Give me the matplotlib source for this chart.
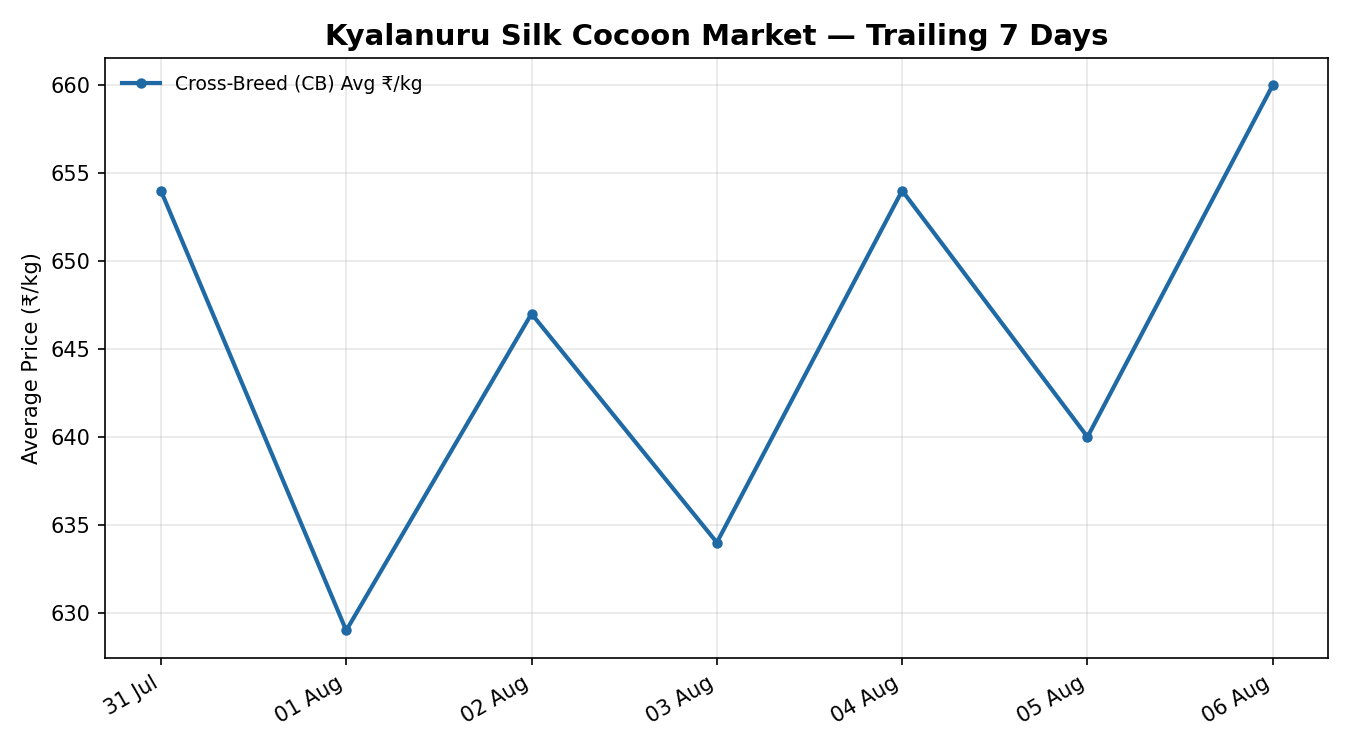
import numpy as np
import pandas as pd
import matplotlib
matplotlib.use("Agg")
import matplotlib.pyplot as plt
import matplotlib.dates as mdates

# données : prix moyen CB sur 7 jours
dates = ["2024-07-31", "2024-08-01", "2024-08-02", "2024-08-03",
         "2024-08-04", "2024-08-05", "2024-08-06"]
cb_avg = [654, 629, 647, 634, 654, 640, 660]

x = pd.to_datetime(dates)

fig, ax = plt.subplots(figsize=(9, 5), dpi=150)
ax.plot(x, cb_avg, color="#1f6aa5", linewidth=2, marker="o", markersize=4,
        label="Cross-Breed (CB) Avg ₹/kg")

ax.set_title("Kyalanuru Silk Cocoon Market — Trailing 7 Days",
             fontsize=14, fontweight="bold")
ax.set_ylabel("Average Price (₹/kg)")
ax.xaxis.set_major_locator(mdates.DayLocator())
ax.xaxis.set_major_formatter(mdates.DateFormatter("%d %b"))
plt.setp(ax.get_xticklabels(), rotation=30, ha="right")
ax.grid(True, alpha=0.3)
ax.legend(loc="upper left", frameon=False, fontsize=9)

fig.subplots_adjust(left=0.078, right=0.984, top=0.923, bottom=0.123)
fig.savefig("out.png")
